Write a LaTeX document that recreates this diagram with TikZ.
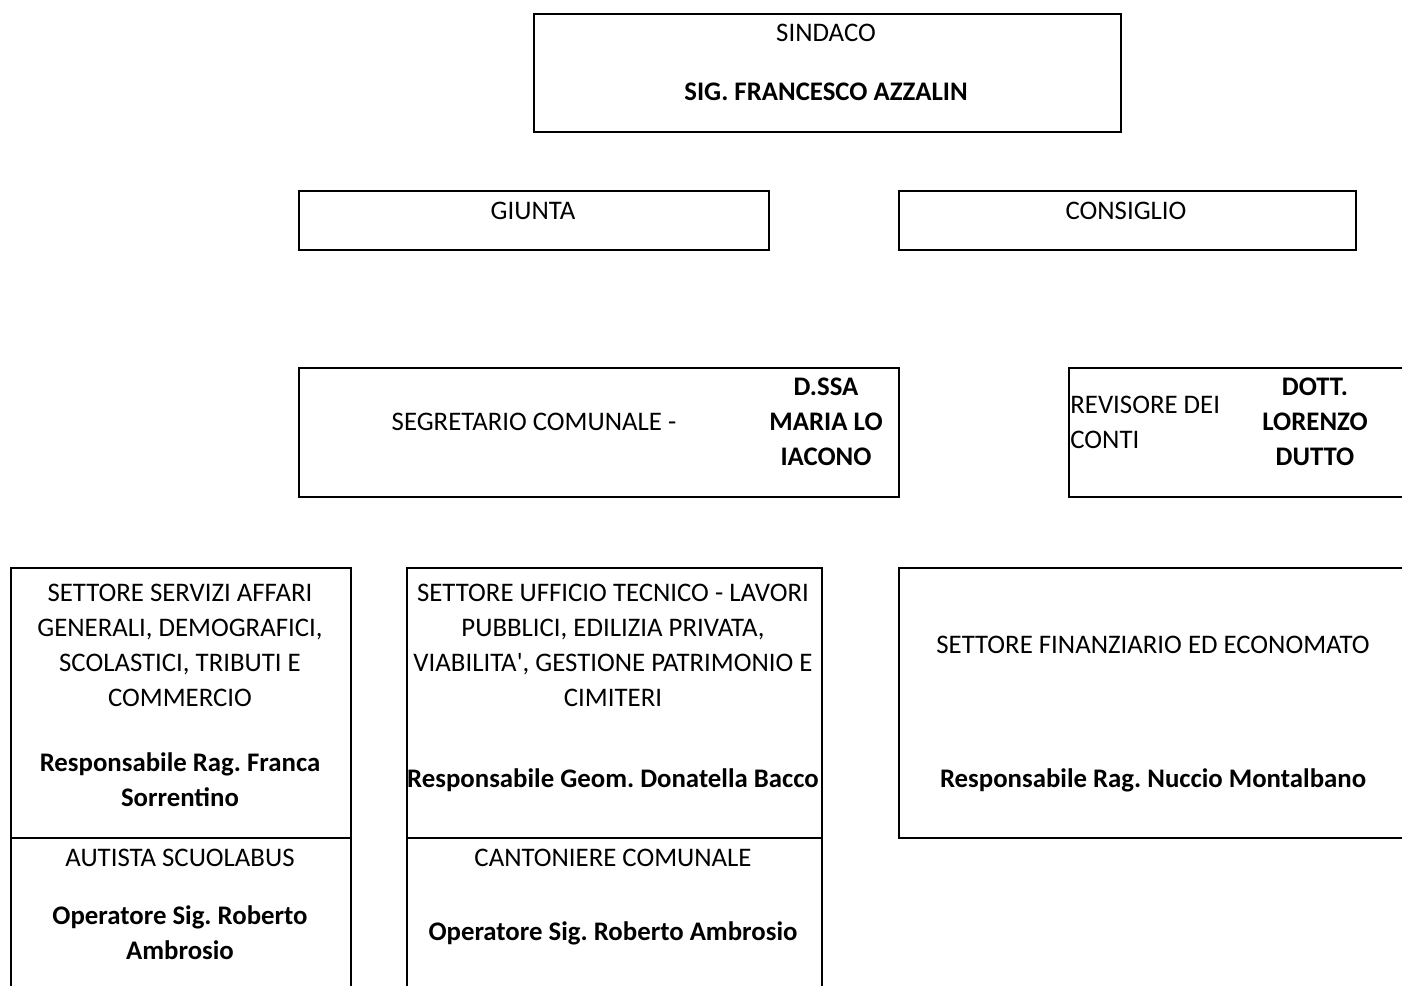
\documentclass[tikz,border=0pt]{standalone}
\usepackage{fontspec}
\setmainfont{Carlito}
\usetikzlibrary{positioning}

\tikzset{
  cell/.style={draw, line width=1.2pt, rectangle, anchor=north west, inner sep=0pt},
  txt/.style={font=\fontsize{13.4}{17.5}\selectfont, align=center, inner sep=0pt},
  bold/.style={txt, font=\fontsize{13.4}{17.5}\selectfont\bfseries}
}

\begin{document}
\frenchspacing
\begin{tikzpicture}[x=0.5pt, y=-0.5pt]
    % Page frame
    \useasboundingbox (0,0) rectangle (1402,985);
    \clip (0,0) rectangle (1402,985);

    % Boxes
    \node[cell, minimum width=293.5pt, minimum height=59pt] (sindaco) at (533,13) {};
    \node[cell, minimum width=235pt, minimum height=29.5pt] (giunta) at (298,190) {};
    \node[cell, minimum width=228.5pt, minimum height=29.5pt] (consiglio) at (898,190) {};
    \node[cell, minimum width=300pt, minimum height=64.5pt] (segretario) at (298,367) {};
    \node[cell, minimum width=200pt, minimum height=64.5pt] (revisore) at (1068,367) {};
    \node[cell, minimum width=170pt, minimum height=135pt] (servizi) at (10,567) {};
    \node[cell, minimum width=170pt, minimum height=100pt] (autista) at (10,837) {};
    \node[cell, minimum width=207.5pt, minimum height=135pt] (ufficio) at (406,567) {};
    \node[cell, minimum width=207.5pt, minimum height=100pt] (cantoniere) at (406,837) {};
    \node[cell, minimum width=300pt, minimum height=135pt] (finanziario) at (898,567) {};

    % Texts
    \node[txt] (sindacoT) at (826,33) {SINDACO};
    \node[bold] (sindacoN) at (826,92) {SIG. FRANCESCO AZZALIN};
    \node[txt] (giuntaT) at (533,211) {GIUNTA};
    \node[txt] (consiglioT) at (1126,211) {CONSIGLIO};
    \node[txt] (segretarioT) at (534,422) {SEGRETARIO COMUNALE -};
    \node[bold] (segretarioN) at (826,422) {D.SSA\\MARIA LO\\IACONO};
    \node[txt, align=left, anchor=west] (revisoreT) at (1070,422) {REVISORE DEI\\CONTI};
    \node[bold] (revisoreN) at (1315,422) {DOTT.\\LORENZO\\DUTTO};
    \node[txt] (serviziT) at (180,645) {SETTORE SERVIZI AFFARI\\GENERALI, DEMOGRAFICI,\\SCOLASTICI, TRIBUTI E\\COMMERCIO};
    \node[bold] (serviziN) at (180,780) {Responsabile Rag. Franca\\Sorrentino};
    \node[txt] (ufficioT) at (613,645) {SETTORE UFFICIO TECNICO - LAVORI\\PUBBLICI, EDILIZIA PRIVATA,\\VIABILITA\textquotesingle, GESTIONE PATRIMONIO E\\CIMITERI};
    \node[bold] (ufficioN) at (613,780) {Responsabile Geom. Donatella Bacco};
    \node[txt] (finanziarioT) at (1153,645) {SETTORE FINANZIARIO ED ECONOMATO};
    \node[bold] (finanziarioN) at (1153,780) {Responsabile Rag. Nuccio Montalbano};
    \node[txt] (autistaT) at (180,858) {AUTISTA SCUOLABUS};
    \node[bold] (autistaN) at (180,933) {Operatore Sig. Roberto\\Ambrosio};
    \node[txt] (cantoniereT) at (613,858) {CANTONIERE COMUNALE};
    \node[bold] (cantoniereN) at (613,933) {Operatore Sig. Roberto Ambrosio};
\end{tikzpicture}
\end{document}
